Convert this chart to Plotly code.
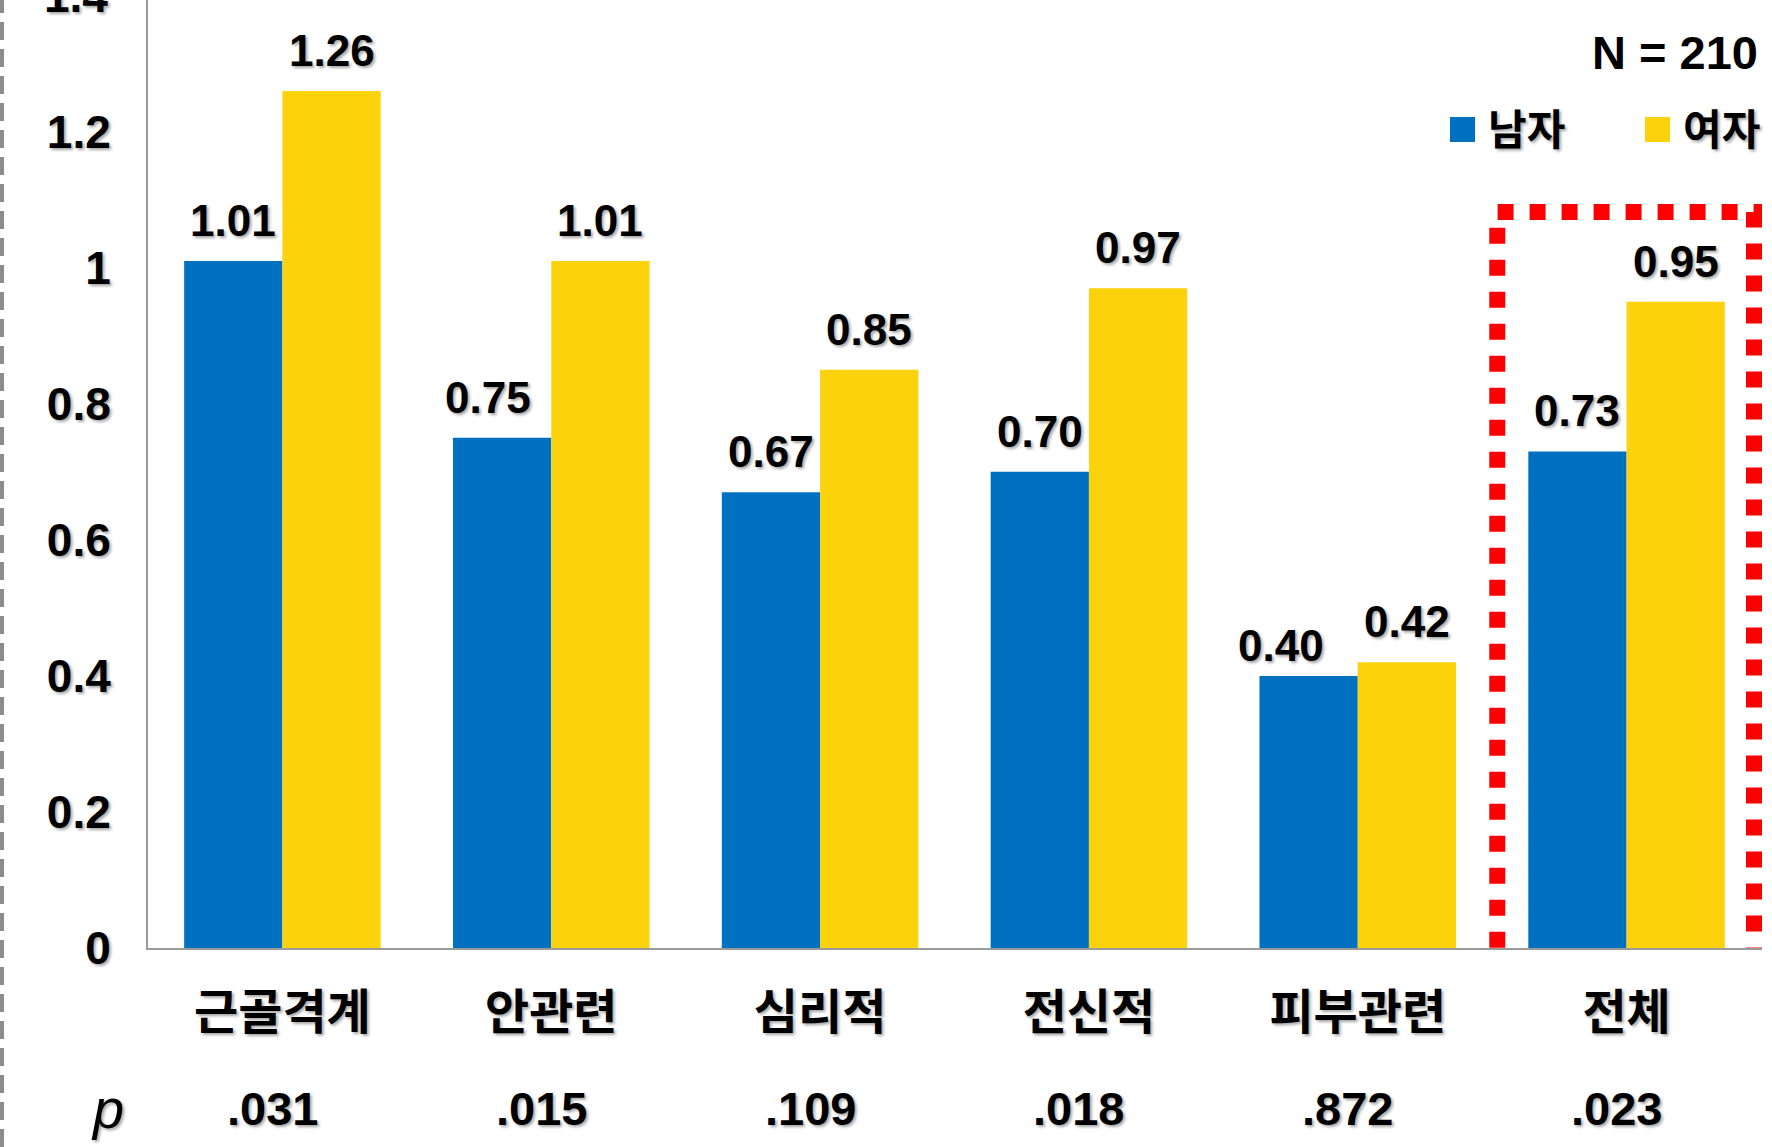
import plotly.graph_objects as go

# ---------------- data ----------------
categories = ["근골격계", "안관련", "심리적", "전신적", "피부관련", "전체"]
male = [1.01, 0.75, 0.67, 0.70, 0.40, 0.73]
female = [1.26, 1.01, 0.85, 0.97, 0.42, 0.95]
p_values = [".031", ".015", ".109", ".018", ".872", ".023"]
y_tick_vals = [0, 0.2, 0.4, 0.6, 0.8, 1, 1.2, 1.4]
y_tick_text = ["0", "0.2", "0.4", "0.6", "0.8", "1", "1.2", "1.4"]
series_names = ["남자", "여자"]
sample_note = "N = 210"
highlight_category = "전체"

# ---------------- style ----------------
BLUE = "#0070C0"
YELLOW = "#FCD20C"
AXIS_GRAY = "#9a9a9a"
NUM_FONT = "Liberation Sans, Arial, sans-serif"
KR_FONT = "Noto Sans CJK KR, sans-serif"
SHADOW = "2px 2px 3px rgba(0,0,0,0.35)"

W, H = 1772, 1147
ML, MR, MT, MB = 148, 10, 0, 199
Y_TOP = 1.3937
BARGAP = 0.269
# small manual label nudges seen in the original (pixels), per series index -> {category index: (dx, dy)}
LABEL_NUDGE = {0: {1: (-14, 0), 4: (-28, -10)}, 1: {}}

fig = go.Figure()
fig.add_trace(go.Bar(x=categories, y=male, name=series_names[0],
                     marker=dict(color=BLUE, line=dict(width=0)), showlegend=False))
fig.add_trace(go.Bar(x=categories, y=female, name=series_names[1],
                     marker=dict(color=YELLOW, line=dict(width=0)), showlegend=False))

annotations = []
half = (1 - BARGAP) / 4.0
num_font = dict(family=NUM_FONT, size=44, color="black", weight=700, shadow=SHADOW)

# value labels
for s_idx, (series, off) in enumerate(((male, -half), (female, half))):
    for i, v in enumerate(series):
        dx, dy = LABEL_NUDGE[s_idx].get(i, (0, 0))
        annotations.append(dict(x=i + off, y=v, xref="x", yref="y", text=f"{v:.2f}",
                                showarrow=False, yanchor="bottom", xanchor="center",
                                xshift=dx, yshift=14 + dy, font=num_font))

# top tick label partly cut off at the top edge (range stops just below it)
top_tick = y_tick_vals[-1]
annotations.append(dict(x=0, xref="paper", xanchor="right", xshift=-38,
                        y=1, yref="paper", yanchor="middle",
                        yshift=(top_tick - Y_TOP) / Y_TOP * (H - MT - MB),
                        text=y_tick_text[-1], showarrow=False,
                        font=dict(family=NUM_FONT, size=46, color="black", weight=700, shadow=SHADOW)))

# p-values row
for i, p in enumerate(p_values):
    annotations.append(dict(x=i, xref="x", y=0, yref="paper", yshift=-160,
                            xanchor="center", yanchor="middle", xshift=-10,
                            text=p, showarrow=False,
                            font=dict(family=NUM_FONT, size=47, color="black", weight=700, shadow=SHADOW)))
annotations.append(dict(x=0, xref="paper", xshift=-41, xanchor="center",
                        y=0, yref="paper", yshift=-160, yanchor="middle",
                        text="p", showarrow=False,
                        font=dict(family=NUM_FONT, size=56,
                                  color="black", style="italic", shadow=SHADOW)))

# N note and manual legend (pixel offsets from the right edge of the plot area)
annotations.append(dict(x=1, xref="paper", xanchor="right", xshift=-2,
                        y=1, yref="paper", yanchor="middle", yshift=-52,
                        text=sample_note, showarrow=False,
                        font=dict(family=NUM_FONT, size=47, color="black", weight=700)))
legend_items = [(series_names[0], BLUE, -312, -276), (series_names[1], YELLOW, -117, -81)]
shapes = []
for name, col, sq_x, tx_x in legend_items:
    shapes.append(dict(type="rect", xref="paper", yref="paper", xanchor=1, yanchor=1,
                       xsizemode="pixel", ysizemode="pixel",
                       x0=sq_x, x1=sq_x + 25, y0=-142, y1=-117,
                       fillcolor=col, line=dict(width=0)))
    annotations.append(dict(x=1, xref="paper", xshift=tx_x, xanchor="left",
                            y=1, yref="paper", yshift=-126, yanchor="middle",
                            text=name, showarrow=False,
                            font=dict(family=KR_FONT, size=42, color="black", weight=700, shadow=SHADOW)))

# red dotted highlight box around the "전체" group
hi = categories.index(highlight_category)
shapes.append(dict(type="rect", xref="x", yref="y",
                   x0=hi - 0.481, x1=hi + 0.474, y0=-0.163, y1=1.082,
                   line=dict(color="#FF0000", width=16, dash="16px,16px"),
                   fillcolor="rgba(0,0,0,0)", layer="above"))

# grey dashed line on the far left edge
shapes.append(dict(type="line", xref="paper", yref="paper", xanchor=0, yanchor=0,
                   xsizemode="pixel", ysizemode="pixel",
                   x0=-146, x1=-146, y0=-MB, y1=H - MB,
                   line=dict(color="#8c8c8c", width=4, dash="18px,9px")))

fig.update_layout(
    width=W, height=H,
    margin=dict(l=ML, r=MR, t=MT, b=MB, pad=0),
    paper_bgcolor="white", plot_bgcolor="white",
    barmode="group", bargap=BARGAP, bargroupgap=0,
    showlegend=False,
    annotations=annotations,
    shapes=shapes,
    xaxis=dict(showline=True, linecolor=AXIS_GRAY, linewidth=2, showgrid=False,
               ticks="outside", ticklen=21, tickcolor="rgba(0,0,0,0)",
               tickfont=dict(family=KR_FONT, size=48, color="black", weight=700, shadow=SHADOW),
               zeroline=False),
    yaxis=dict(range=[0, Y_TOP], showline=True, linecolor=AXIS_GRAY, linewidth=2,
               showgrid=False, zeroline=False,
               tickvals=y_tick_vals[:-1], ticktext=y_tick_text[:-1],
               ticks="outside", ticklen=26, tickcolor="rgba(0,0,0,0)",
               tickfont=dict(family=NUM_FONT, size=46, color="black", weight=700, shadow=SHADOW)),
)

fig.write_html("out.html", config={"displayModeBar": False},
               post_script="document.body.style.margin='0';")
